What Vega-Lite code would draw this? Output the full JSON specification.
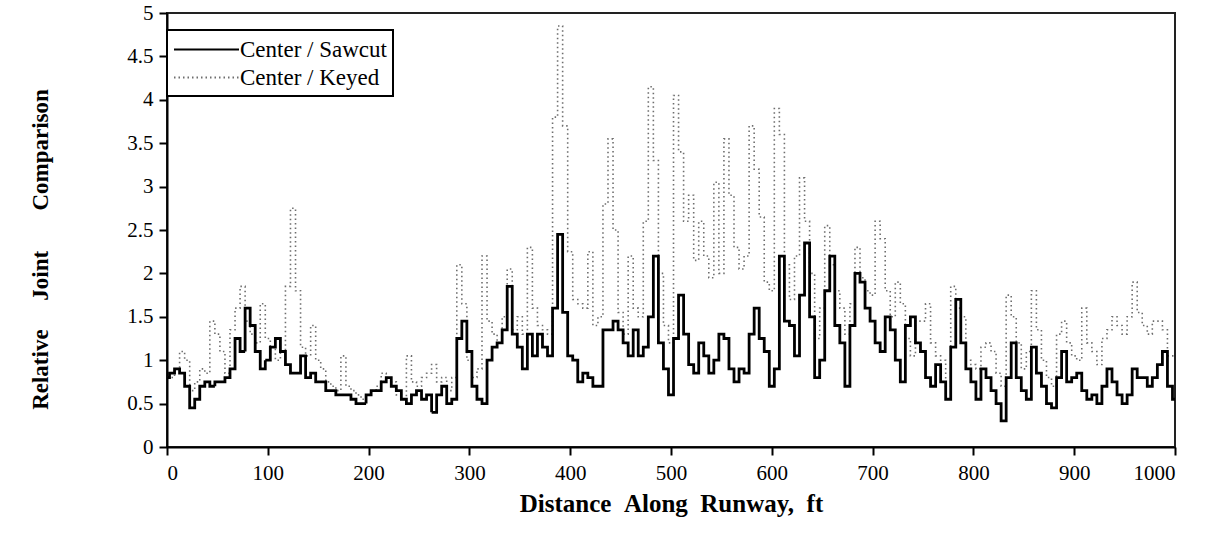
{
  "$schema": "https://vega.github.io/schema/vega-lite/v6.json",
  "width": 1008,
  "height": 434,
  "autosize": "none",
  "padding": {"left": 167, "top": 13, "right": 31, "bottom": 91},
  "background": "white",
  "config": {
    "font": "Liberation Serif",
    "view": {"stroke": "#222", "strokeWidth": 2},
    "axis": {
      "grid": false,
      "domainColor": "black",
      "domainWidth": 2,
      "tickColor": "black",
      "tickWidth": 2,
      "tickSize": 8,
      "labelFont": "Liberation Serif",
      "labelFontSize": 21,
      "labelColor": "black",
      "titleFont": "Liberation Serif",
      "titleFontWeight": "bold",
      "titleFontSize": 23,
      "titleColor": "black"
    },
    "legend": {
      "labelFont": "Liberation Serif",
      "labelFontSize": 23,
      "labelColor": "black"
    }
  },
  "data": {"values": [
    {"d":0,"saw":0.8,"key":0.8},{"d":5,"saw":0.85,"key":0.8},{"d":10,"saw":0.9,"key":0.9},{"d":15,"saw":0.85,"key":1.1},{"d":20,"saw":0.7,"key":1.0},
    {"d":25,"saw":0.45,"key":0.65},{"d":30,"saw":0.55,"key":0.75},{"d":35,"saw":0.7,"key":0.9},{"d":40,"saw":0.75,"key":0.85},{"d":45,"saw":0.7,"key":1.45},
    {"d":50,"saw":0.75,"key":1.3},{"d":55,"saw":0.75,"key":1.1},{"d":60,"saw":0.8,"key":0.85},{"d":65,"saw":0.9,"key":1.35},{"d":70,"saw":1.25,"key":1.6},
    {"d":75,"saw":1.1,"key":1.85},{"d":80,"saw":1.6,"key":1.45},{"d":85,"saw":1.4,"key":1.3},{"d":90,"saw":1.1,"key":1.2},{"d":95,"saw":0.9,"key":1.65},
    {"d":100,"saw":1.0,"key":1.25},{"d":105,"saw":1.15,"key":1.15},{"d":110,"saw":1.25,"key":1.0},{"d":115,"saw":1.1,"key":1.1},{"d":120,"saw":0.95,"key":1.85},
    {"d":125,"saw":0.85,"key":2.75},{"d":130,"saw":0.85,"key":1.8},{"d":135,"saw":1.05,"key":1.15},{"d":140,"saw":0.8,"key":1.05},{"d":145,"saw":0.85,"key":1.4},
    {"d":150,"saw":0.75,"key":1.0},{"d":155,"saw":0.75,"key":0.9},{"d":160,"saw":0.65,"key":0.75},{"d":165,"saw":0.65,"key":0.7},{"d":170,"saw":0.6,"key":0.65},
    {"d":175,"saw":0.6,"key":1.05},{"d":180,"saw":0.6,"key":0.7},{"d":185,"saw":0.55,"key":0.65},{"d":190,"saw":0.5,"key":0.6},{"d":195,"saw":0.5,"key":0.55},
    {"d":200,"saw":0.6,"key":0.6},{"d":205,"saw":0.65,"key":0.65},{"d":210,"saw":0.65,"key":0.7},{"d":215,"saw":0.75,"key":0.85},{"d":220,"saw":0.8,"key":0.8},
    {"d":225,"saw":0.7,"key":0.75},{"d":230,"saw":0.65,"key":0.6},{"d":235,"saw":0.55,"key":0.55},{"d":240,"saw":0.5,"key":1.05},{"d":245,"saw":0.6,"key":0.75},
    {"d":250,"saw":0.65,"key":0.7},{"d":255,"saw":0.55,"key":0.8},{"d":260,"saw":0.6,"key":0.85},{"d":265,"saw":0.4,"key":0.95},{"d":270,"saw":0.6,"key":0.75},
    {"d":275,"saw":0.7,"key":0.8},{"d":280,"saw":0.5,"key":0.65},{"d":285,"saw":0.55,"key":0.8},{"d":290,"saw":1.25,"key":2.1},{"d":295,"saw":1.45,"key":1.65},
    {"d":300,"saw":1.1,"key":1.0},{"d":305,"saw":0.7,"key":0.8},{"d":310,"saw":0.55,"key":0.9},{"d":315,"saw":0.5,"key":2.2},{"d":320,"saw":1.0,"key":1.45},
    {"d":325,"saw":1.15,"key":1.3},{"d":330,"saw":1.2,"key":1.2},{"d":335,"saw":1.35,"key":1.5},{"d":340,"saw":1.85,"key":2.05},{"d":345,"saw":1.3,"key":1.35},
    {"d":350,"saw":1.15,"key":1.5},{"d":355,"saw":0.9,"key":1.3},{"d":360,"saw":1.3,"key":2.3},{"d":365,"saw":1.05,"key":1.6},{"d":370,"saw":1.3,"key":1.4},
    {"d":375,"saw":1.15,"key":1.35},{"d":380,"saw":1.05,"key":1.3},{"d":385,"saw":1.6,"key":3.8},{"d":390,"saw":2.45,"key":4.85},{"d":395,"saw":1.55,"key":3.7},
    {"d":400,"saw":1.05,"key":2.25},{"d":405,"saw":1.0,"key":1.7},{"d":410,"saw":0.75,"key":1.65},{"d":415,"saw":0.85,"key":1.6},{"d":420,"saw":0.8,"key":2.25},
    {"d":425,"saw":0.7,"key":1.4},{"d":430,"saw":0.7,"key":1.5},{"d":435,"saw":1.35,"key":2.8},{"d":440,"saw":1.35,"key":3.55},{"d":445,"saw":1.45,"key":2.5},
    {"d":450,"saw":1.35,"key":1.55},{"d":455,"saw":1.2,"key":1.3},{"d":460,"saw":1.05,"key":2.2},{"d":465,"saw":1.35,"key":1.6},{"d":470,"saw":1.05,"key":1.5},
    {"d":475,"saw":1.15,"key":2.6},{"d":480,"saw":1.5,"key":4.15},{"d":485,"saw":2.2,"key":3.3},{"d":490,"saw":1.2,"key":2.0},{"d":495,"saw":0.9,"key":1.4},
    {"d":500,"saw":0.6,"key":1.2},{"d":505,"saw":1.25,"key":4.05},{"d":510,"saw":1.75,"key":3.4},{"d":515,"saw":1.3,"key":2.6},{"d":520,"saw":0.95,"key":2.9},
    {"d":525,"saw":0.85,"key":2.15},{"d":530,"saw":1.2,"key":2.6},{"d":535,"saw":1.05,"key":2.2},{"d":540,"saw":0.85,"key":1.95},{"d":545,"saw":1.0,"key":3.05},
    {"d":550,"saw":1.3,"key":2.0},{"d":555,"saw":1.25,"key":3.55},{"d":560,"saw":0.9,"key":2.9},{"d":565,"saw":0.75,"key":2.3},{"d":570,"saw":0.9,"key":2.05},
    {"d":575,"saw":0.85,"key":2.2},{"d":580,"saw":1.3,"key":3.7},{"d":585,"saw":1.6,"key":3.2},{"d":590,"saw":1.25,"key":2.65},{"d":595,"saw":1.1,"key":1.9},
    {"d":600,"saw":0.7,"key":1.8},{"d":605,"saw":0.9,"key":3.9},{"d":610,"saw":2.2,"key":3.6},{"d":615,"saw":1.45,"key":2.1},{"d":620,"saw":1.4,"key":1.7},
    {"d":625,"saw":1.05,"key":2.2},{"d":630,"saw":1.75,"key":3.1},{"d":635,"saw":2.35,"key":2.6},{"d":640,"saw":1.5,"key":2.0},{"d":645,"saw":0.8,"key":1.25},
    {"d":650,"saw":1.0,"key":1.6},{"d":655,"saw":1.8,"key":2.55},{"d":660,"saw":2.2,"key":2.1},{"d":665,"saw":1.4,"key":1.8},{"d":670,"saw":1.2,"key":1.6},
    {"d":675,"saw":0.7,"key":1.3},{"d":680,"saw":1.4,"key":1.65},{"d":685,"saw":2.0,"key":2.3},{"d":690,"saw":1.9,"key":1.95},{"d":695,"saw":1.6,"key":1.8},
    {"d":700,"saw":1.45,"key":1.75},{"d":705,"saw":1.2,"key":2.6},{"d":710,"saw":1.1,"key":2.4},{"d":715,"saw":1.5,"key":1.8},{"d":720,"saw":1.35,"key":1.5},
    {"d":725,"saw":1.0,"key":1.9},{"d":730,"saw":0.75,"key":1.65},{"d":735,"saw":1.4,"key":1.25},{"d":740,"saw":1.5,"key":1.05},{"d":745,"saw":1.2,"key":1.45},
    {"d":750,"saw":1.1,"key":1.45},{"d":755,"saw":0.8,"key":1.65},{"d":760,"saw":0.7,"key":1.2},{"d":765,"saw":0.95,"key":1.05},{"d":770,"saw":0.75,"key":1.0},
    {"d":775,"saw":0.55,"key":0.7},{"d":780,"saw":1.15,"key":1.85},{"d":785,"saw":1.7,"key":1.6},{"d":790,"saw":1.2,"key":1.5},{"d":795,"saw":0.9,"key":1.0},
    {"d":800,"saw":0.75,"key":0.95},{"d":805,"saw":0.55,"key":0.9},{"d":810,"saw":0.9,"key":1.15},{"d":815,"saw":0.8,"key":1.2},{"d":820,"saw":0.65,"key":1.1},
    {"d":825,"saw":0.5,"key":0.85},{"d":830,"saw":0.3,"key":0.7},{"d":835,"saw":0.8,"key":1.75},{"d":840,"saw":1.2,"key":1.5},{"d":845,"saw":0.8,"key":1.2},
    {"d":850,"saw":0.65,"key":0.9},{"d":855,"saw":0.55,"key":1.1},{"d":860,"saw":1.15,"key":1.8},{"d":865,"saw":0.85,"key":1.35},{"d":870,"saw":0.7,"key":1.0},
    {"d":875,"saw":0.5,"key":0.8},{"d":880,"saw":0.45,"key":0.7},{"d":885,"saw":0.8,"key":1.3},{"d":890,"saw":1.1,"key":1.45},{"d":895,"saw":0.75,"key":1.2},
    {"d":900,"saw":0.8,"key":1.05},{"d":905,"saw":0.85,"key":1.0},{"d":910,"saw":0.65,"key":1.6},{"d":915,"saw":0.55,"key":1.2},{"d":920,"saw":0.6,"key":1.1},
    {"d":925,"saw":0.5,"key":0.95},{"d":930,"saw":0.7,"key":1.25},{"d":935,"saw":0.9,"key":1.35},{"d":940,"saw":0.75,"key":1.5},{"d":945,"saw":0.6,"key":1.4},
    {"d":950,"saw":0.5,"key":1.3},{"d":955,"saw":0.6,"key":1.5},{"d":960,"saw":0.9,"key":1.9},{"d":965,"saw":0.8,"key":1.55},{"d":970,"saw":0.8,"key":1.4},
    {"d":975,"saw":0.7,"key":1.3},{"d":980,"saw":0.8,"key":1.45},{"d":985,"saw":0.95,"key":1.45},{"d":990,"saw":1.1,"key":1.35},{"d":995,"saw":0.7,"key":1.05},
    {"d":1000,"saw":0.55,"key":1.05}
  ]},
  "encoding": {
    "x": {
      "field": "d", "type": "quantitative",
      "scale": {"domain": [0, 1000], "nice": false},
      "axis": {
        "values": [0,100,200,300,400,500,600,700,800,900,1000],
        "format": "d",
        "labelFont": "Liberation Serif",
        "labelPadding": 7,
        "title": "Distance\u00a0\u00a0Along\u00a0\u00a0Runway,\u00a0\u00a0ft",
        "titleFontSize": 25,
        "titleX": 504, "titleY": 56, "titleBaseline": "middle", "titleAlign": "center"
      }
    }
  },
  "layer": [
    {
      "mark": {"type": "line", "interpolate": "step", "strokeWidth": 1.6},
      "encoding": {
        "y": {
          "field": "key", "type": "quantitative",
          "scale": {"domain": [0, 5], "nice": false},
          "axis": {
            "values": [0,0.5,1,1.5,2,2.5,3,3.5,4,4.5,5],
            "format": "~g",
            "labelFont": "Liberation Serif",
            "labelPadding": 6,
            "title": "Relative\u00a0\u00a0\u00a0\u00a0\u00a0Joint\u00a0\u00a0\u00a0\u00a0\u00a0\u00a0\u00a0Comparison",
            "titleFontSize": 23,
            "titleX": -127, "titleY": 236, "titleAngle": 270,
            "titleAlign": "center", "titleBaseline": "middle"
          }
        },
        "color": {
          "datum": "Center / Keyed",
          "scale": {"domain": ["Center / Sawcut", "Center / Keyed"], "range": ["#000000", "#6e6e6e"]},
          "legend": {
            "title": null,
            "orient": "none",
            "legendX": 0,
            "legendY": 17,
            "symbolType": "M-1,0H4.2",
            "symbolSize": 625,
            "symbolStrokeWidth": 2,
            "labelOffset": 40,
            "labelFont": "Liberation Serif",
            "padding": 6,
            "rowPadding": 2,
            "fillColor": "white",
            "strokeColor": "black",
            "encode": {"legend": {"update": {"strokeWidth": {"value": 2}}}}
          }
        },
        "strokeDash": {
          "datum": "Center / Keyed",
          "scale": {"domain": ["Center / Sawcut", "Center / Keyed"], "range": [[1, 0], [1.5, 3]]},
          "legend": null
        }
      }
    },
    {
      "mark": {"type": "line", "interpolate": "step", "strokeWidth": 2.8},
      "encoding": {
        "y": {"field": "saw", "type": "quantitative"},
        "color": {"datum": "Center / Sawcut"},
        "strokeDash": {"datum": "Center / Sawcut"}
      }
    }
  ]
}
